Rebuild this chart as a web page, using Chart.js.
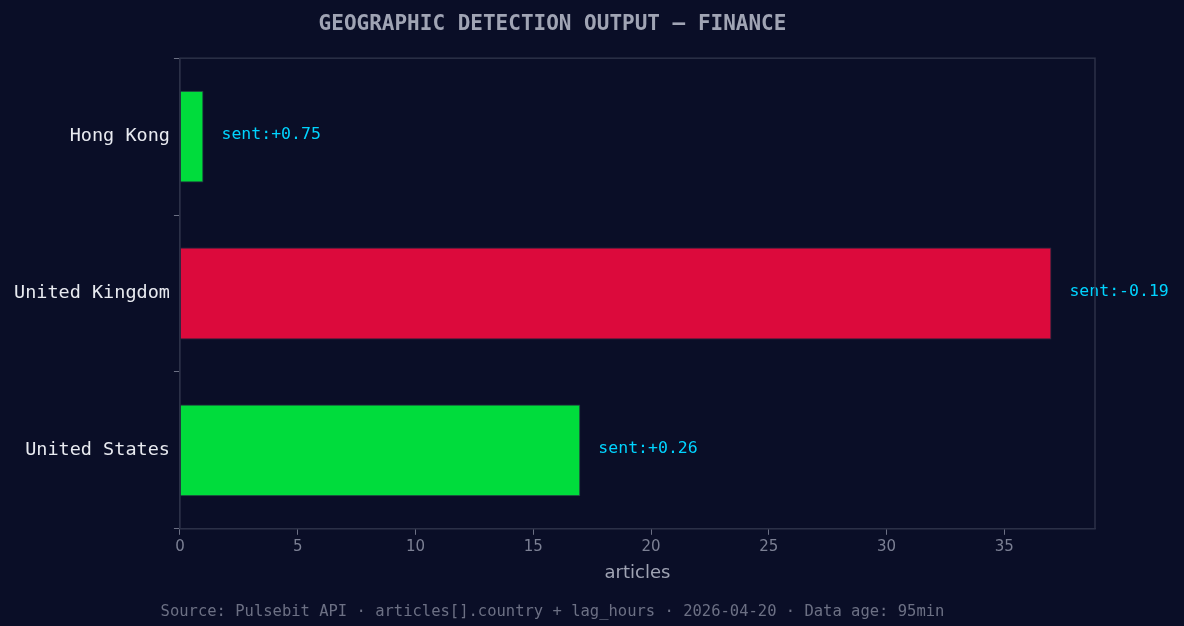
<!DOCTYPE html>
<html><head><meta charset="utf-8">
<script src="https://cdn.jsdelivr.net/npm/chart.js@4"></script>
<style>html,body{margin:0;padding:0;background:#0a0e27;}#w{width:1184px;height:626px;position:relative}</style>
</head><body><div id="w"><canvas id="c" width="1184" height="626"></canvas></div>
<script>
const categories = ["Hong Kong", "United Kingdom", "United States"];
const articles = [1, 37, 17];
const sentiment = ["+0.75", "-0.19", "+0.26"];
const barColors = ["#00dc3c", "#dc0a3c", "#00dc3c"];
const xTicks = [0, 5, 10, 15, 20, 25, 30, 35];

const labelPlugin = {
  id: 'lbl',
  afterDatasetsDraw(chart) {
    const ctx = chart.ctx;
    const meta = chart.getDatasetMeta(0);
    ctx.save();
    ctx.font = '16.5px "DejaVu Sans Mono", monospace';
    ctx.fillStyle = '#00d4ff';
    ctx.textBaseline = 'middle';
    meta.data.forEach((b, i) => {
      ctx.fillText('sent:' + sentiment[i], b.x + 18, b.y - 2);
    });
    ctx.restore();
  }
};
const framePlugin = {
  id: 'frame',
  afterDraw(chart) {
    const a = chart.chartArea, ctx = chart.ctx;
    ctx.save();
    ctx.strokeStyle = '#2c3148';
    ctx.lineWidth = 1.5;
    ctx.strokeRect(a.left, a.top, a.right - a.left, a.bottom - a.top);
    ctx.restore();
  }
};

new Chart(document.getElementById('c'), {
  type: 'bar',
  data: { labels: categories, datasets: [{ data: articles, backgroundColor: barColors, borderColor: '#2c3148', borderWidth: 1, barPercentage: 0.585, categoryPercentage: 1 }] },
  options: {
    indexAxis: 'y', responsive: false, animation: false,
    layout: { padding: { top: 0, right: 89, bottom: 5, left: 10 } },
    plugins: {
      legend: { display: false }, tooltip: { enabled: false },
      title: { display: true, text: 'GEOGRAPHIC DETECTION OUTPUT — FINANCE', color: '#a0a4b4',
        font: { family: '"DejaVu Sans Mono", monospace', size: 21, weight: 'bold' }, padding: { top: 12, bottom: 21 } },
      subtitle: { display: true, position: 'bottom', text: 'Source: Pulsebit API · articles[].country + lag_hours · 2026-04-20 · Data age: 95min',
        color: '#6c7084', font: { family: '"DejaVu Sans Mono", monospace', size: 15.5 }, padding: { top: 14 } }
    },
    scales: {
      x: { min: 0, max: 38.85, grid: { display: true, drawOnChartArea: false, drawTicks: true, tickLength: 6, tickColor: '#6c7084' },
        border: { color: '#2c3148' },
        afterBuildTicks: ax => { ax.ticks = xTicks.map(v => ({ value: v })); },
        ticks: { color: '#7c8094', font: { family: '"DejaVu Sans", sans-serif', size: 15 }, padding: 3 },
        title: { display: true, text: 'articles', color: '#a0a4b4', font: { family: '"DejaVu Sans", sans-serif', size: 18 }, padding: { top: 4 } } },
      y: { grid: { display: true, drawOnChartArea: false, tickLength: 6, tickColor: '#6c7084' }, border: { color: '#2c3148' },
        ticks: { color: '#e8eaf0', font: { family: '"DejaVu Sans Mono", monospace', size: 18.5 }, padding: 4 } }
    }
  },
  plugins: [labelPlugin, framePlugin]
});
</script></body></html>
